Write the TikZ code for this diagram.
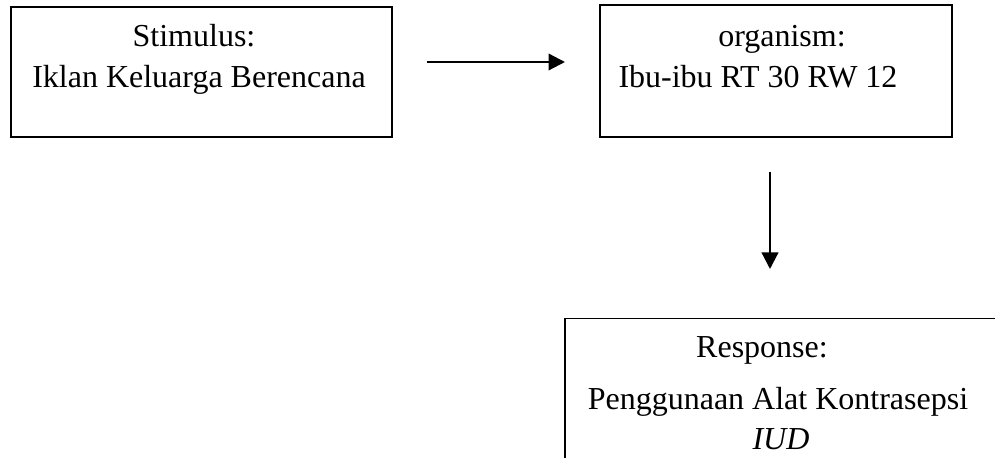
\documentclass[tikz,border=0pt]{standalone}
\usepackage{fontspec}
\setmainfont{Liberation Serif}
\usepackage{tikz}
\usetikzlibrary{arrows.meta,positioning}

\begin{document}
\begin{tikzpicture}[
    x=0.4pt, y=-0.4pt,
    box/.style={draw, line width=0.6pt, inner sep=0pt},
    txt/.style={inner sep=0pt, anchor=base, font=\fontsize{12.8}{16}\selectfont},
    arrow/.style={-{Triangle[length=6.6pt,width=6.6pt]}, line width=0.9pt}
]
    \clip (0,0) rectangle (995,458);

    % Kotak
    \node[box, minimum width=381*0.4pt, minimum height=130*0.4pt] (stim) at (201.5,72) {};
    \node[box, minimum width=352*0.4pt, minimum height=132*0.4pt] (org) at (776,71) {};
    \node[box, minimum width=480*0.4pt, minimum height=200*0.4pt, anchor=north west] (resp) at (564,318) {};

    % Teks
    \node[txt] (stimA) at (194,47) {Stimulus:};
    \node[txt] (stimB) at (199,88) {Iklan Keluarga Berencana};
    \node[txt] (orgA) at (782,47) {organism:};
    \node[txt] (orgB) at (758,88) {Ibu-ibu RT 30 RW 12};
    \node[txt] (respA) at (762,358) {Response:};
    \node[txt] (respB) at (778,410) {Penggunaan Alat Kontrasepsi};
    \node[txt] (respC) at (781,450) {\textit{IUD}};

    % Panah
    \coordinate (h1) at (427,62);
    \coordinate (h2) at (565,62);
    \coordinate (v1) at (770,172);
    \coordinate (v2) at (770,269);
    \draw[arrow] (h1) -- (h2);
    \draw[arrow] (v1) -- (v2);

\end{tikzpicture}
\end{document}
